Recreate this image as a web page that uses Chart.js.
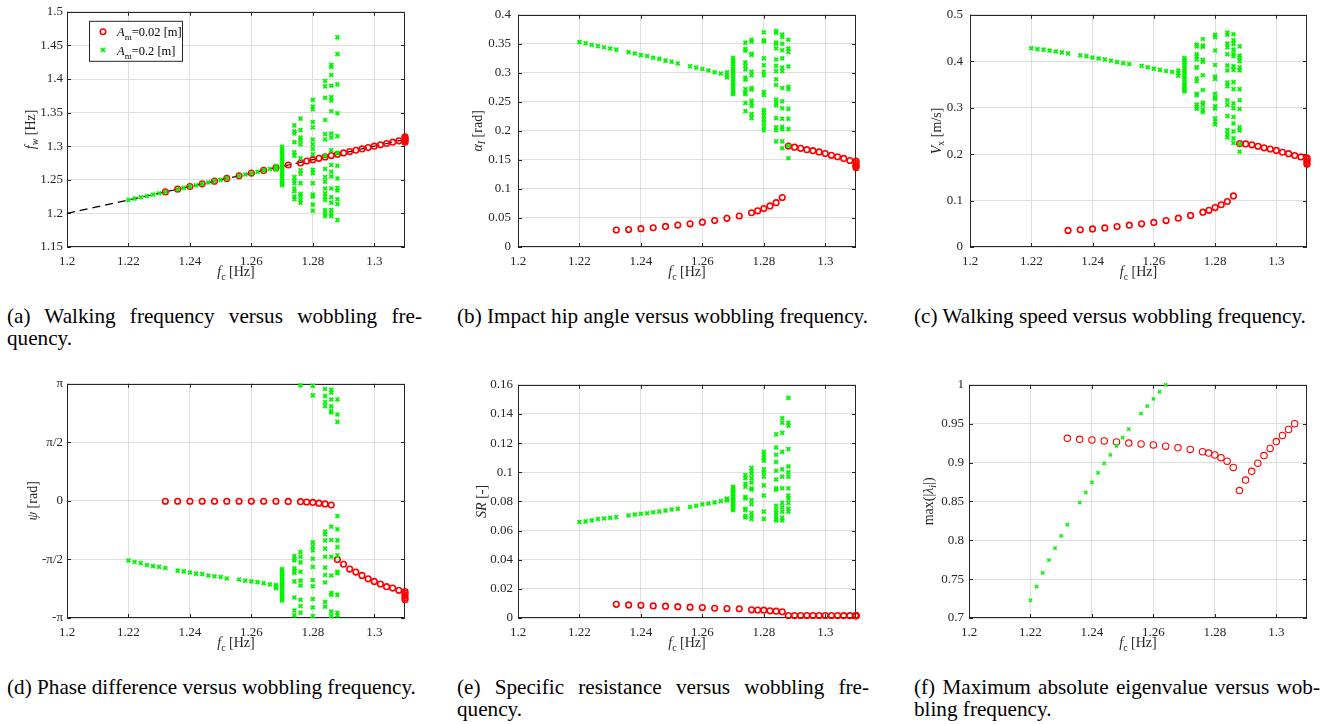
<!DOCTYPE html>
<html>
<head>
<meta charset="utf-8">
<script src="https://cdn.jsdelivr.net/npm/chart.js@4.4.1/dist/chart.umd.min.js"></script>
<style>
  body { margin: 0; background: #fff; width: 1323px; height: 724px; position: relative; overflow: hidden; font-family: "Liberation Serif", serif; }
  canvas { position: absolute; }
  .cap { position: absolute; font-size: 21.2px; line-height: 22px; color: #000; }
  .cap div { white-space: nowrap; }
  .cap .j { text-align: justify; text-align-last: justify; }
</style>
</head>
<body>
<script>
// frequency grid of the stable gaits (red: A_m = 0.02 m, green: A_m = 0.2 m)
const redX = [1.232, 1.236, 1.240, 1.244, 1.248, 1.252, 1.256, 1.260, 1.264, 1.268, 1.272, 1.276, 1.278, 1.280,
  1.282, 1.284, 1.286, 1.288, 1.290, 1.292, 1.294, 1.296, 1.298, 1.300, 1.302, 1.304, 1.306, 1.308,
  1.31, 1.31, 1.31, 1.31, 1.31];
const greenX = [1.220, 1.222, 1.224, 1.226, 1.228, 1.230, 1.232, 1.236, 1.238, 1.240, 1.242, 1.244, 1.246, 1.248,
  1.250, 1.252, 1.256, 1.258, 1.260, 1.262, 1.264, 1.266, 1.268, 1.268, 1.268];
// frequencies where the large-amplitude gait is chaotic
const chaosX = [1.270, 1.274, 1.276, 1.280, 1.284, 1.286, 1.288];

const xTicks = [1.2, 1.22, 1.24, 1.26, 1.28, 1.3];
const refLine = [1.2, 1.31];

// (a) walking frequency
const fwRed = [1.232, 1.236, 1.240, 1.244, 1.248, 1.252, 1.256, 1.260, 1.264, 1.268, 1.272, 1.275, 1.278, 1.280,
  1.282, 1.284, 1.286, 1.288, 1.290, 1.292, 1.294, 1.296, 1.298, 1.300, 1.302, 1.304, 1.306, 1.308,
  1.314, 1.312, 1.310, 1.308, 1.306];
const fwGreen = [1.220, 1.222, 1.224, 1.226, 1.228, 1.230, 1.232, 1.236, 1.238, 1.240, 1.242, 1.244, 1.246, 1.248,
  1.250, 1.252, 1.256, 1.258, 1.260, 1.262, 1.264, 1.266, 1.265, 1.268, 1.271];
const fwChaos = [
  [1.299, 1.296, 1.292, 1.290, 1.286, 1.283, 1.281, 1.277, 1.274, 1.270, 1.268, 1.265, 1.261, 1.258, 1.255, 1.252, 1.249, 1.246, 1.244, 1.242],
  [1.331, 1.322, 1.319, 1.306, 1.291, 1.286, 1.254, 1.249, 1.245, 1.237, 1.233, 1.225, 1.221],
  [1.341, 1.324, 1.313, 1.309, 1.303, 1.282, 1.264, 1.259, 1.245, 1.229, 1.226, 1.220, 1.216],
  [1.369, 1.359, 1.355, 1.336, 1.328, 1.310, 1.303, 1.296, 1.288, 1.265, 1.260, 1.245, 1.228, 1.225, 1.213, 1.204],
  [1.397, 1.389, 1.372, 1.339, 1.318, 1.310, 1.286, 1.266, 1.254, 1.247, 1.237, 1.230, 1.225, 1.220, 1.205, 1.200, 1.196],
  [1.421, 1.418, 1.406, 1.390, 1.373, 1.368, 1.352, 1.319, 1.313, 1.294, 1.272, 1.262, 1.255, 1.237, 1.224, 1.216, 1.205, 1.200, 1.196],
  [1.462, 1.437, 1.392, 1.349, 1.315, 1.290, 1.271, 1.252, 1.238, 1.234, 1.221, 1.214, 1.190]
];
const fwTicks = [1.15, 1.2, 1.25, 1.3, 1.35, 1.4, 1.45, 1.5];

// (b) impact hip angle
const alphaRed = [0.0293, 0.030, 0.0315, 0.0332, 0.0354, 0.0377, 0.040, 0.0427, 0.0455, 0.0494, 0.0534, 0.059, 0.0623, 0.0662,
  0.0707, 0.0763, 0.0853, 0.1738, 0.172, 0.170, 0.1676, 0.166, 0.1637, 0.161, 0.158, 0.1553, 0.1525, 0.149,
  0.148, 0.145, 0.142, 0.139, 0.137];
const alphaGreen = [0.353, 0.351, 0.348, 0.346, 0.344, 0.342, 0.340, 0.3356, 0.3334, 0.3306, 0.329, 0.326, 0.324, 0.321,
  0.319, 0.316, 0.3115, 0.309, 0.3065, 0.304, 0.301, 0.299, 0.301, 0.296, 0.292];
const alphaChaos = [
  [0.326, 0.322, 0.318, 0.315, 0.311, 0.307, 0.303, 0.300, 0.296, 0.292, 0.288, 0.284, 0.280, 0.276, 0.272, 0.268, 0.265, 0.263],
  [0.352, 0.341, 0.338, 0.318, 0.312, 0.306, 0.292, 0.288, 0.272, 0.266, 0.263, 0.248, 0.234],
  [0.357, 0.354, 0.333, 0.331, 0.302, 0.296, 0.274, 0.271, 0.252, 0.248, 0.243, 0.229, 0.222],
  [0.370, 0.356, 0.354, 0.325, 0.313, 0.302, 0.296, 0.267, 0.262, 0.236, 0.232, 0.226, 0.220, 0.214, 0.207, 0.201],
  [0.372, 0.369, 0.352, 0.350, 0.342, 0.323, 0.312, 0.303, 0.289, 0.279, 0.254, 0.248, 0.244, 0.222, 0.206, 0.201, 0.182],
  [0.366, 0.362, 0.350, 0.339, 0.325, 0.309, 0.303, 0.274, 0.251, 0.239, 0.221, 0.207, 0.203, 0.182, 0.170],
  [0.357, 0.342, 0.336, 0.311, 0.276, 0.272, 0.238, 0.221, 0.203, 0.174, 0.153]
];
const alphaTicks = [0, 0.05, 0.1, 0.15, 0.2, 0.25, 0.3, 0.35, 0.4];

// (c) walking speed
const vxRed = [0.0357, 0.037, 0.039, 0.041, 0.044, 0.047, 0.050, 0.053, 0.057, 0.062, 0.068, 0.075, 0.079, 0.085,
  0.091, 0.098, 0.110, 0.2226, 0.222, 0.220, 0.217, 0.2135, 0.211, 0.208, 0.204, 0.201, 0.197, 0.194,
  0.192, 0.189, 0.185, 0.181, 0.178];
const vxGreen = [0.428, 0.426, 0.425, 0.423, 0.421, 0.419, 0.417, 0.413, 0.411, 0.408, 0.406, 0.404, 0.401, 0.398,
  0.396, 0.394, 0.390, 0.387, 0.384, 0.3815, 0.379, 0.377, 0.380, 0.374, 0.369];
const vxChaos = [
  [0.407, 0.403, 0.398, 0.393, 0.389, 0.384, 0.379, 0.375, 0.370, 0.365, 0.361, 0.356, 0.351, 0.347, 0.342, 0.338, 0.335],
  [0.436, 0.432, 0.415, 0.410, 0.404, 0.387, 0.386, 0.363, 0.357, 0.330, 0.327, 0.307, 0.302, 0.298],
  [0.448, 0.434, 0.431, 0.403, 0.399, 0.370, 0.338, 0.311, 0.306, 0.296, 0.290],
  [0.457, 0.452, 0.423, 0.392, 0.367, 0.362, 0.330, 0.322, 0.319, 0.303, 0.298, 0.277, 0.270, 0.264],
  [0.462, 0.457, 0.438, 0.430, 0.415, 0.391, 0.380, 0.354, 0.346, 0.316, 0.306, 0.282, 0.252, 0.243, 0.236],
  [0.458, 0.445, 0.437, 0.425, 0.416, 0.411, 0.389, 0.381, 0.355, 0.340, 0.309, 0.299, 0.280, 0.266, 0.249, 0.234, 0.224],
  [0.432, 0.412, 0.407, 0.400, 0.387, 0.380, 0.340, 0.316, 0.297, 0.258, 0.251, 0.222, 0.205]
];
const vxTicks = [0, 0.1, 0.2, 0.3, 0.4, 0.5];

// (d) phase difference [rad]
const psiRed = [-0.01, -0.01, -0.01, -0.01, -0.01, -0.01, -0.01, -0.01, -0.01, -0.01, -0.015, -0.02, -0.03, -0.04,
  -0.06, -0.08, -0.11, -1.575, -1.70, -1.83, -1.91, -2.00, -2.09, -2.16, -2.23, -2.30, -2.34, -2.40,
  -2.43, -2.48, -2.54, -2.60, -2.65];
const psiGreen = [-1.60, -1.64, -1.67, -1.72, -1.75, -1.77, -1.80, -1.87, -1.89, -1.92, -1.95, -1.96, -2.00, -2.02,
  -2.04, -2.08, -2.11, -2.14, -2.16, -2.18, -2.21, -2.24, -2.26, -2.30, -2.34];
const psiChaos = [
  [-1.83, -1.87, -1.93, -1.97, -2.03, -2.08, -2.12, -2.18, -2.23, -2.27, -2.33, -2.38, -2.42, -2.48, -2.53, -2.57, -2.63, -2.67],
  [-1.48, -1.55, -1.60, -1.81, -1.87, -1.93, -2.16, -2.59, -2.94, -3.07],
  [3.10, -1.37, -1.50, -1.65, -1.90, -2.14, -2.27, -2.65, -2.82, -3.00],
  [3.09, 2.83, -1.11, -1.22, -1.33, -1.55, -1.77, -2.12, -2.29, -2.63, -2.86, -3.09],
  [3.00, 2.81, 2.65, 2.54, -0.82, -0.90, -1.06, -1.28, -1.50, -1.79, -1.99, -2.19, -2.71, -2.84],
  [2.98, 2.90, 2.72, 2.54, 2.41, 2.37, -0.69, -1.05, -1.50, -2.00, -2.47, -2.52, -2.97, -3.09],
  [2.72, 2.32, 2.12, -0.405, -0.76, -1.06, -1.24, -1.46, -1.90, -1.94, -2.52, -3.00, -3.07]
];
const psiTicks = [-Math.PI, -Math.PI / 2, 0, Math.PI / 2, Math.PI];
const psiLabels = ['-π', '-π/2', '0', 'π/2', 'π'];

// (e) specific resistance
const srRed = [0.0094, 0.0090, 0.0087, 0.0083, 0.0081, 0.0078, 0.0074, 0.0072, 0.0067, 0.0065, 0.0063, 0.0056, 0.0055, 0.0054,
  0.0049, 0.0047, 0.0043, 0.0017, 0.0017, 0.0017, 0.0017, 0.0017, 0.0017, 0.0017, 0.0017, 0.0017, 0.0016, 0.0016,
  0.0016, 0.0016, 0.0016, 0.0016, 0.0016];
const srGreen = [0.0659, 0.0663, 0.0670, 0.0679, 0.0683, 0.0688, 0.0692, 0.0703, 0.0710, 0.0715, 0.0719, 0.0726, 0.0730, 0.0737,
  0.0744, 0.0750, 0.0762, 0.0770, 0.0780, 0.0786, 0.0793, 0.0802, 0.0806, 0.0815, 0.0820];
const srChaos = [
  [0.090, 0.089, 0.088, 0.087, 0.086, 0.085, 0.084, 0.083, 0.082, 0.081, 0.080, 0.079, 0.078, 0.077, 0.076, 0.075, 0.074],
  [0.098, 0.096, 0.092, 0.090, 0.083, 0.082, 0.075, 0.074, 0.070, 0.069],
  [0.103, 0.101, 0.099, 0.096, 0.093, 0.089, 0.088, 0.081, 0.078, 0.072, 0.070, 0.068],
  [0.114, 0.112, 0.110, 0.108, 0.102, 0.100, 0.097, 0.091, 0.084, 0.073, 0.068],
  [0.126, 0.117, 0.112, 0.107, 0.101, 0.095, 0.089, 0.088, 0.077, 0.074, 0.072, 0.070, 0.068, 0.067],
  [0.137, 0.134, 0.127, 0.114, 0.102, 0.097, 0.089, 0.079, 0.076, 0.073, 0.069, 0.067],
  [0.151, 0.134, 0.132, 0.116, 0.104, 0.100, 0.097, 0.089, 0.084, 0.082, 0.079, 0.075, 0.073]
];
const srTicks = [0, 0.02, 0.04, 0.06, 0.08, 0.1, 0.12, 0.14, 0.16];

// (f) maximum absolute eigenvalue (only the orbits that were found stable)
const eigRed = [0.9311, 0.9298, 0.929, 0.9278, 0.9265, 0.925, 0.924, 0.9227, 0.921, 0.919, 0.9168, 0.9139, 0.9122, 0.9097,
  0.9063, 0.9017, 0.8937, 0.8639, 0.8774, 0.8887, 0.8992, 0.9089, 0.9181, 0.9269, 0.9349, 0.9425, 0.950];
const eigGreen = [0.7227, 0.7404, 0.758, 0.7744, 0.790, 0.8055, 0.820, 0.8484, 0.8614, 0.8744, 0.8866, 0.8988, 0.910, 0.9215,
  0.932, 0.9429, 0.963, 0.9727, 0.982, 0.9908, 1.0];
const eigTicks = [0.7, 0.75, 0.8, 0.85, 0.9, 0.95, 1];

const RED = '#ff0000';
const GREEN = '#00f500';
const GRID = '#dfdfdf';
const INK = '#262626';
const FONT = '"Liberation Serif", "Times New Roman", serif';

function pair(xs, ys) {
  return xs.map((x, i) => ({ x: x, y: ys[i] === undefined ? null : ys[i] }));
}
function columns(xs, cols) {
  const pts = [];
  cols.forEach((c, i) => c.forEach(v => pts.push({ x: xs[i], y: v })));
  return pts;
}
function fmt(v) {
  return String(parseFloat(v.toFixed(4)));
}

// text with italic / subscript runs, drawn centred on (x, y)
function drawRich(ctx, parts, x, y, size, align) {
  const fontOf = p => (p.it ? 'italic ' : '') + (p.sub ? Math.round(size * 0.72) : size) + 'px ' + FONT;
  let w = 0;
  parts.forEach(p => { ctx.font = fontOf(p); w += ctx.measureText(p.t).width; });
  let cx = align === 'left' ? x : x - w / 2;
  parts.forEach(p => {
    ctx.font = fontOf(p);
    ctx.fillText(p.t, cx, y + (p.sub ? size * 0.32 : 0));
    cx += ctx.measureText(p.t).width;
  });
}

// MATLAB-like box with inward ticks, axis titles and the legend
const framePlugin = {
  id: 'frame',
  beforeDatasetsDraw(chart) {
    const { ctx, chartArea: a, scales } = chart;
    ctx.save();
    ctx.strokeStyle = INK;
    ctx.lineWidth = 1;
    ctx.beginPath();
    scales.x.ticks.forEach(t => {
      const px = Math.round(scales.x.getPixelForValue(t.value)) + 0.5;
      ctx.moveTo(px, a.bottom); ctx.lineTo(px, a.bottom - 4);
      ctx.moveTo(px, a.top); ctx.lineTo(px, a.top + 4);
    });
    scales.y.ticks.forEach(t => {
      const py = Math.round(scales.y.getPixelForValue(t.value)) + 0.5;
      ctx.moveTo(a.left, py); ctx.lineTo(a.left + 4, py);
      ctx.moveTo(a.right, py); ctx.lineTo(a.right - 4, py);
    });
    ctx.stroke();
    ctx.strokeRect(Math.round(a.left) + 0.5, Math.round(a.top) + 0.5, Math.round(a.width) - 1, Math.round(a.height) - 1);
    ctx.restore();
  },
  afterDraw(chart, args, opts) {
    const { ctx, chartArea: a } = chart;
    ctx.save();
    ctx.fillStyle = INK;
    ctx.textBaseline = 'alphabetic';
    drawRich(ctx, opts.xTitle, (a.left + a.right) / 2, a.bottom + 29, 14);
    ctx.translate(a.left - opts.yOffset, (a.top + a.bottom) / 2);
    ctx.rotate(-Math.PI / 2);
    ctx.textBaseline = 'middle';
    drawRich(ctx, opts.yTitle, 0, 0, 14);
    ctx.restore();

    if (opts.legend) {
      const bx = a.left + 22, by = a.top + 9;
      ctx.save();
      ctx.fillStyle = '#fff';
      ctx.fillRect(bx, by, 93, 40);
      ctx.strokeStyle = INK;
      ctx.lineWidth = 1;
      ctx.strokeRect(bx + 0.5, by + 0.5, 93, 40);
      // circle marker
      ctx.strokeStyle = RED;
      ctx.lineWidth = 1.5;
      ctx.beginPath();
      ctx.arc(bx + 14, by + 11, 2.8, 0, Math.PI * 2);
      ctx.stroke();
      // cross marker
      ctx.strokeStyle = GREEN;
      ctx.lineWidth = 1.8;
      ctx.beginPath();
      ctx.moveTo(bx + 12, by + 27); ctx.lineTo(bx + 16, by + 31);
      ctx.moveTo(bx + 16, by + 27); ctx.lineTo(bx + 12, by + 31);
      ctx.stroke();
      ctx.fillStyle = '#000';
      ctx.textBaseline = 'alphabetic';
      opts.legend.forEach((parts, i) => drawRich(ctx, parts, bx + 28, by + 15 + i * 19, 12.5, 'left'));
      ctx.restore();
    }
  }
};
Chart.register(framePlugin);

const xTitle = [{ t: 'f', it: true }, { t: 'c', sub: true }, { t: ' [Hz]' }];

function makePanel(box, yCfg, datasets, extra) {
  const L = 67, T = 9, R = 30, B = 45;
  const w = box.r - box.l + L + R;
  const h = box.b - box.t + T + B;
  const cv = document.createElement('canvas');
  cv.width = w; cv.height = h;
  cv.style.left = (box.l - L) + 'px';
  cv.style.top = (box.t - T) + 'px';
  cv.style.width = w + 'px';
  cv.style.height = h + 'px';
  document.body.appendChild(cv);

  const tickFont = { family: FONT, size: 13 };
  return new Chart(cv, {
    type: 'scatter',
    data: { datasets: datasets },
    options: {
      responsive: false,
      animation: false,
      devicePixelRatio: 1,
      layout: { padding: { left: 0, top: T, right: R, bottom: 0 } },
      plugins: {
        legend: { display: false },
        tooltip: { enabled: false },
        frame: Object.assign({ xTitle: xTitle, yOffset: 36 }, extra)
      },
      scales: {
        x: {
          type: 'linear', min: 1.2, max: 1.31,
          afterFit: s => { s.height = B; },
          afterBuildTicks: s => { s.ticks = xTicks.map(v => ({ value: v })); },
          grid: { color: GRID, drawTicks: false },
          border: { display: false },
          ticks: { padding: 7, font: tickFont, color: INK, autoSkip: false, maxRotation: 0, callback: v => fmt(v) }
        },
        y: {
          type: 'linear', min: yCfg.ticks[0], max: yCfg.ticks[yCfg.ticks.length - 1],
          afterFit: s => { s.width = L; },
          afterBuildTicks: s => { s.ticks = yCfg.ticks.map(v => ({ value: v })); },
          grid: { color: GRID, drawTicks: false },
          border: { display: false },
          ticks: {
            padding: yCfg.pad || 5, font: tickFont, color: INK, autoSkip: false,
            callback: (v, i) => yCfg.labels ? yCfg.labels[i] : fmt(v)
          }
        }
      }
    }
  });
}

function redSet(data, r, bw) {
  return { data: data, order: 1, pointStyle: 'circle', pointRadius: r || 2.8, pointBorderWidth: bw || 1.6,
    borderColor: RED, backgroundColor: 'rgba(0,0,0,0)', clip: false };
}
function greenSet(data, r, bw) {
  return { data: data, order: 0, pointStyle: 'crossRot', pointRadius: r || 2.7, pointBorderWidth: bw || 1.8,
    borderColor: GREEN, backgroundColor: GREEN, clip: false };
}

// (a)
makePanel({ l: 67, r: 405, t: 9, b: 247 }, { ticks: fwTicks, pad: 4 }, [
  greenSet(pair(greenX, fwGreen).concat(columns(chaosX, fwChaos))),
  redSet(pair(redX, fwRed)),
  { type: 'line', data: refLine.map(v => ({ x: v, y: v })), order: 2, borderColor: '#000', borderWidth: 1.2,
    borderDash: [8, 5], pointRadius: 0, showLine: true, fill: false }
], {
  yTitle: [{ t: 'f', it: true }, { t: 'w', sub: true, it: true }, { t: ' [Hz]' }],
  legend: [
    [{ t: 'A', it: true }, { t: 'm', sub: true }, { t: '=0.02 [m]' }],
    [{ t: 'A', it: true }, { t: 'm', sub: true }, { t: '=0.2 [m]' }]
  ]
});

// (b)
makePanel({ l: 518, r: 856, t: 9, b: 247 }, { ticks: alphaTicks, pad: 7 }, [
  greenSet(pair(greenX, alphaGreen).concat(columns(chaosX, alphaChaos))),
  redSet(pair(redX, alphaRed))
], { yTitle: [{ t: 'α', it: true }, { t: 'I', sub: true, it: true }, { t: ' [rad]' }], yOffset: 40 });

// (c)
makePanel({ l: 970, r: 1307, t: 9, b: 247 }, { ticks: vxTicks, pad: 7 }, [
  greenSet(pair(greenX, vxGreen).concat(columns(chaosX, vxChaos))),
  redSet(pair(redX, vxRed))
], { yTitle: [{ t: 'V', it: true }, { t: 'x', sub: true }, { t: ' [m/s]' }], yOffset: 33 });

// (d)
makePanel({ l: 67, r: 405, t: 381, b: 618 }, { ticks: psiTicks, labels: psiLabels, pad: 4 }, [
  greenSet(pair(greenX, psiGreen).concat(columns(chaosX, psiChaos))),
  redSet(pair(redX, psiRed))
], { yTitle: [{ t: 'ψ', it: true }, { t: ' [rad]' }], yOffset: 34 });

// (e)
makePanel({ l: 518, r: 856, t: 381, b: 618 }, { ticks: srTicks }, [
  greenSet(pair(greenX, srGreen).concat(columns(chaosX, srChaos))),
  redSet(pair(redX, srRed))
], { yTitle: [{ t: 'SR', it: true }, { t: ' [-]' }], yOffset: 36 });

// (f)
makePanel({ l: 969, r: 1307, t: 381, b: 618 }, { ticks: eigTicks }, [
  greenSet(pair(greenX, eigGreen), 2.3, 1.4),
  redSet(pair(redX, eigRed), 3.2, 1.1)
], { yTitle: [{ t: 'max(|' }, { t: 'λ', it: true }, { t: 'i', sub: true, it: true }, { t: '|)' }], yOffset: 40 });

// sub-figure captions
const captions = [
  { left: 7, top: 305, width: 415, lines: ['(a) Walking frequency versus wobbling fre-', 'quency.'] },
  { left: 457, top: 305, width: 416, lines: ['(b) Impact hip angle versus wobbling frequency.'] },
  { left: 914, top: 305, width: 405, lines: ['(c) Walking speed versus wobbling frequency.'] },
  { left: 7, top: 676, width: 410, lines: ['(d) Phase difference versus wobbling frequency.'] },
  { left: 457, top: 676, width: 412, lines: ['(e) Specific resistance versus wobbling fre-', 'quency.'] },
  { left: 914, top: 676, width: 406, lines: ['(f) Maximum absolute eigenvalue versus wob-', 'bling frequency.'] }
];
captions.forEach(c => {
  const div = document.createElement('div');
  div.className = 'cap';
  div.style.left = c.left + 'px';
  div.style.top = c.top + 'px';
  div.style.width = c.width + 'px';
  c.lines.forEach((txt, i) => {
    const line = document.createElement('div');
    if (c.lines.length > 1 && i === 0) line.className = 'j';
    line.textContent = txt;
    div.appendChild(line);
  });
  document.body.appendChild(div);
});
</script>
</body>
</html>
